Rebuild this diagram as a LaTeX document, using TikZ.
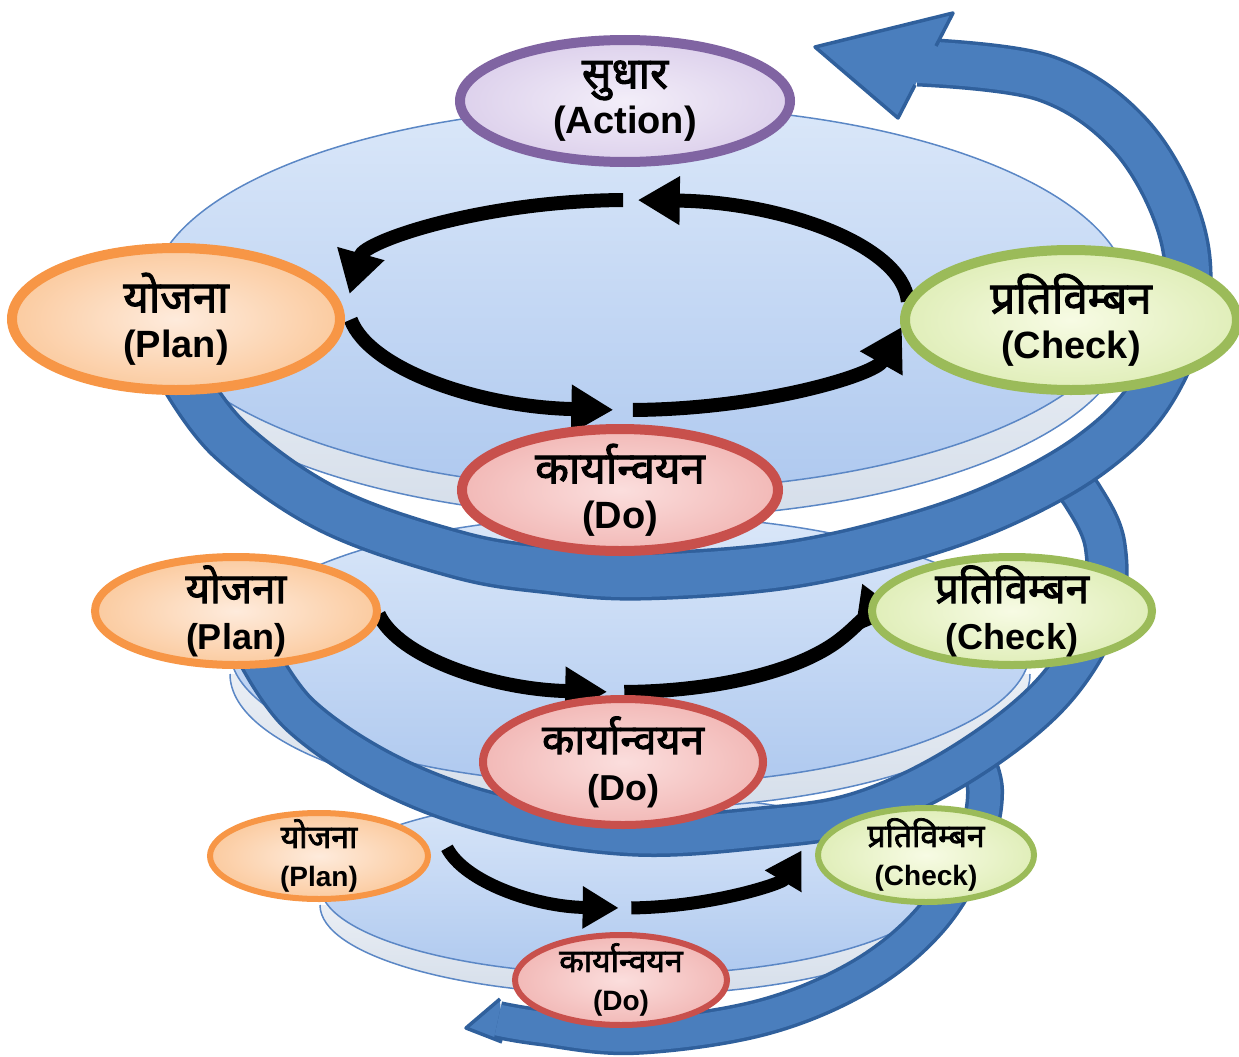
\documentclass[tikz,border=0pt]{standalone}
\usepackage{fontspec}
\setmainfont{Liberation Sans}
\newfontfamily\deva[Script=Devanagari, FakeBold=2.2]{Noto Sans}
\usetikzlibrary{shapes.geometric,arrows.meta}

\definecolor{bandfill}{HTML}{4A7EBD}
\definecolor{bandline}{HTML}{30609C}
\definecolor{discline}{HTML}{5B87C5}
\definecolor{disctop}{HTML}{DAE7F9}
\definecolor{discbot}{HTML}{AFC9EF}
\definecolor{wallgray}{HTML}{D5DEEA}
\definecolor{actline}{HTML}{8064A2}
\definecolor{actin}{HTML}{F3EEF9}
\definecolor{actout}{HTML}{DDD1EC}
\definecolor{planline}{HTML}{F79646}
\definecolor{planin}{HTML}{FEEBDC}
\definecolor{planout}{HTML}{FBCBA0}
\definecolor{checkline}{HTML}{9BBB59}
\definecolor{checkin}{HTML}{F7FBE4}
\definecolor{checkout}{HTML}{E0EEB9}
\definecolor{doline}{HTML}{C8504C}
\definecolor{doin}{HTML}{FBDEDD}
\definecolor{doout}{HTML}{F2B9B7}

\newcommand{\dv}[2]{{\deva\fontsize{#1}{#1}\selectfont #2}}

\tikzset{
  phase/.style={ellipse, inner sep=0pt},
  actnode/.style={phase, draw=actline, inner color=actin, outer color=actout},
  plannode/.style={phase, draw=planline, inner color=planin, outer color=planout},
  checknode/.style={phase, draw=checkline, inner color=checkin, outer color=checkout},
  donode/.style={phase, draw=doline, inner color=doin, outer color=doout},
  txt1/.style={font=\bfseries\fontsize{38}{45}\selectfont, align=center},
  txt2/.style={font=\bfseries\fontsize{36}{46}\selectfont, align=center},
  txt3/.style={font=\bfseries\fontsize{28}{39}\selectfont, align=center},
  disc/.style={draw=discline, line width=1.5pt, top color=disctop, bottom color=discbot},
  wall/.style={top color=white, bottom color=wallgray},
  helix/.style={draw=bandline, line width=3.5pt, double=bandfill, double distance=#1},
  flow/.style={line width=14pt, -{Triangle[length=42pt,width=46pt]}},
  flowsmall/.style={line width=13pt, -{Triangle[length=36pt,width=40pt]}}
}

\begin{document}
\begin{tikzpicture}[x=1pt, y=-1pt]
\useasboundingbox (0,0) rectangle (1239,1057);

% bottom disc
\shade[wall] (320,885) rectangle (940,905) (630,905) ellipse [x radius=310, y radius=90];
\draw[discline, line width=1.5pt] (320,905) arc[start angle=180, end angle=0, x radius=310, y radius=90];
\shadedraw[disc] (630,885) ellipse [x radius=310, y radius=90];

% lowest turn of the spiral
\filldraw[fill=bandfill, draw=bandline, line width=3.5pt, line join=round] (500,999) -- (466,1028) -- (502,1042);
\draw[helix=31pt] plot[smooth, tension=.6] coordinates {(498,1020) (540,1027) (633,1036) (760,1018) (860,977) (930,920) (972,850) (985,790) (970,745)};

% middle disc
\shade[wall] (230,650) rectangle (1030,674) (630,674) ellipse [x radius=400, y radius=135];
\draw[discline, line width=1.5pt] (230,674) arc[start angle=180, end angle=0, x radius=400, y radius=135];
\shadedraw[disc] (630,650) ellipse [x radius=400, y radius=135];

% middle turn
\draw[helix=36pt] plot[smooth, tension=.6] coordinates {(255,650) (300,715) (390,775) (500,815) (633,835) (760,828) (860,812) (960,765) (1050,695) (1100,615) (1105,545) (1082,495) (1062,474)};

% top disc
\shade[wall] (150,298) rectangle (1130,326) (640,326) ellipse [x radius=490, y radius=192];
\draw[discline, line width=1.5pt] (150,326) arc[start angle=180, end angle=0, x radius=490, y radius=192];
\shadedraw[disc] (640,298) ellipse [x radius=490, y radius=192];

% top turn and its head
\draw[helix=42pt] plot[smooth, tension=.6] coordinates {(180,372) (230,440) (330,510) (459,555) (550,570) (640,576) (780,566) (900,540) (1000,505) (1090,455) (1150,395) (1185,310) (1180,225) (1130,135) (1045,78) (918,62)};
\fill[bandfill] (815,47) -- (953,13) -- (898,118) -- cycle;
\draw[bandline, line width=3.5pt, line join=round] (936,46) -- (953,13) -- (815,47) -- (898,118) -- (915,85);

% black cycle arrows
\coordinate (ring1) at (628,305);
\coordinate (ring2) at (620,598);
\coordinate (ring3) at (625,832);
\draw[flow] ([shift={(-2:280 and 105)}]ring1) arc[start angle=-2, end angle=-88, x radius=280, y radius=105];
\draw[flow] ([shift={(-91:280 and 105)}]ring1) arc[start angle=-91, end angle=-174, x radius=280, y radius=105];
\draw[flow] ([shift={(172:280 and 105)}]ring1) arc[start angle=172, end angle=93, x radius=280, y radius=105];
\draw[flow] ([shift={(89:280 and 105)}]ring1) arc[start angle=89, end angle=12, x radius=280, y radius=105];
\draw[flow] ([shift={(170:245 and 94)}]ring2) arc[start angle=170, end angle=93, x radius=245, y radius=94];
\draw[flow] ([shift={(89:245 and 94)}]ring2) arc[start angle=89, end angle=-9, x radius=245, y radius=94];
\draw[flowsmall] ([shift={(168:182 and 76)}]ring3) arc[start angle=168, end angle=92, x radius=182, y radius=76];
\draw[flowsmall] ([shift={(88:182 and 76)}]ring3) arc[start angle=88, end angle=14, x radius=182, y radius=76];

% phases
\node[actnode, line width=10pt, minimum width=330pt, minimum height=122pt,
  label={[txt1]center:{\dv{44}{सुधार}\\(Action)}}] (act) at (625,101) {};
\node[plannode, line width=10pt, minimum width=328pt, minimum height=142pt,
  label={[txt1]center:{\dv{44}{योजना}\\(Plan)}}] (plan1) at (176,319) {};
\node[checknode, line width=10pt, minimum width=332pt, minimum height=140pt,
  label={[txt1]center:{\dv{44}{प्रतिविम्बन}\\(Check)}}] (check1) at (1071,320) {};
\node[donode, line width=10pt, minimum width=316pt, minimum height=122pt,
  label={[txt1]center:{\dv{44}{कार्यान्वयन}\\(Do)}}] (do1) at (620,490) {};

\node[plannode, line width=8pt, minimum width=282pt, minimum height=108pt,
  label={[txt2]center:{\dv{42}{योजना}\\(Plan)}}] (plan2) at (236,611) {};
\node[checknode, line width=8pt, minimum width=280pt, minimum height=108pt,
  label={[txt2]center:{\dv{42}{प्रतिविम्बन}\\(Check)}}] (check2) at (1012,611) {};
\node[donode, line width=8pt, minimum width=280pt, minimum height=126pt,
  label={[txt2]center:{\dv{42}{कार्यान्वयन}\\(Do)}}] (do2) at (623,762) {};

\node[plannode, line width=6pt, minimum width=218pt, minimum height=86pt,
  label={[txt3]center:{\dv{32}{योजना}\\(Plan)}}] (plan3) at (319,856) {};
\node[checknode, line width=6pt, minimum width=216pt, minimum height=94pt,
  label={[txt3]center:{\dv{32}{प्रतिविम्बन}\\(Check)}}] (check3) at (926,855) {};
\node[donode, line width=6pt, minimum width=212pt, minimum height=90pt,
  label={[txt3]center:{\dv{32}{कार्यान्वयन}\\(Do)}}] (do3) at (621,980) {};
\end{tikzpicture}
\end{document}
